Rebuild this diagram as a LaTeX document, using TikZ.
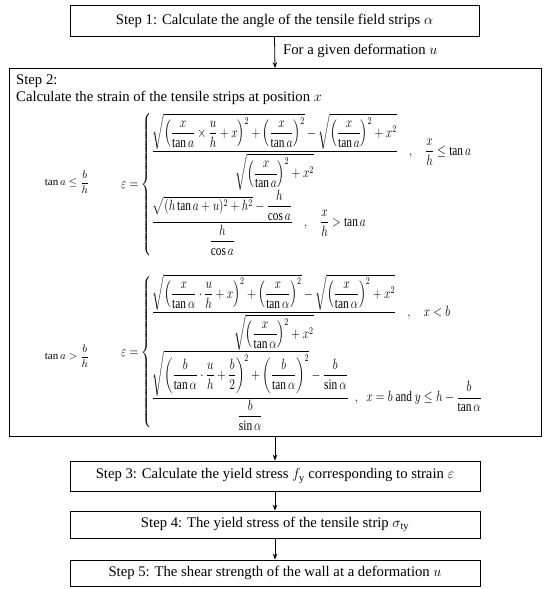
\documentclass[tikz,border=0pt]{standalone}
\usepackage{amsmath}
\usepackage{graphicx}
\usepackage{fontspec}
\setmainfont{Liberation Serif}
\usetikzlibrary{arrows.meta}
\begin{document}
\begin{tikzpicture}[x=1pt,y=-1pt,
  stepbox/.style={draw, line width=0.8pt, inner sep=0pt, font=\fontsize{14.7}{17}\selectfont},
  flow/.style={-{Stealth[length=6pt,width=4.5pt]}, line width=0.8pt},
  txt/.style={inner sep=0pt, font=\fontsize{14.7}{17}\selectfont},
  cond/.style={inner sep=0pt, font=\fontsize{11}{13}\selectfont},
  eq/.style={inner sep=0pt, font=\fontsize{14.2}{17}\selectfont}]
\useasboundingbox (0,0) rectangle (550,589);
\node[stepbox, minimum width=409pt, minimum height=31pt] (s1) at (274.5,21) {Step 1: Calculate the angle of the tensile field strips $\alpha$};
\node[stepbox, minimum width=532pt, minimum height=368pt] (s2) at (275,252.5) {};
\node[stepbox, minimum width=410pt, minimum height=30pt] (s3) at (275,476) {Step 3: Calculate the yield stress $f_{\mathrm{y}}$ corresponding to strain $\varepsilon$};
\node[stepbox, minimum width=410pt, minimum height=27pt] (s4) at (275,524.5) {Step 4: The yield stress of the tensile strip $\sigma_{\mathrm{ty}}$};
\node[stepbox, minimum width=410pt, minimum height=26pt] (s5) at (275,573) {Step 5: The shear strength of the wall at a deformation $u$};
\draw[flow] (s1.south) -- (s2.north);
\node[txt, anchor=west] (lab) at (283,51) {For a given deformation $u$};
\draw[flow] (s2.south) -- (s3.north);
\draw[flow] (s3.south) -- (s4.north);
\draw[flow] (s4.south) -- (s5.north);
\node[txt, anchor=west] (t2a) at (16,81) {Step 2:};
\node[txt, anchor=west] (t2b) at (16,98) {Calculate the strain of the tensile strips at position $x$};
% group 1
\node[cond] (c1) at (67,182) {$\tan a\le\dfrac{b}{h}$};
\node[eq, anchor=west] (e1) at (121,184.5) {\scalebox{0.8}[1.03]{$\displaystyle \varepsilon=\left\{\begin{array}{@{}l@{}}
\dfrac{\sqrt{\left(\dfrac{x}{\tan a}\times\dfrac{u}{h}+x\right)^{2}+\left(\dfrac{x}{\tan a}\right)^{2}}-\sqrt{\left(\dfrac{x}{\tan a}\right)^{2}+x^{2}}}{\sqrt{\left(\dfrac{x}{\tan a}\right)^{2}+x^{2}}}\quad,\quad\dfrac{x}{h}\le\tan a\\[6pt]
\dfrac{\sqrt{(h\tan a+u)^{2}+h^{2}}-\dfrac{h}{\cos a}}{\dfrac{h}{\cos a}}\quad,\quad\dfrac{x}{h}>\tan a
\end{array}\right.$}};
% group 2
\node[cond] (c2) at (67,356) {$\tan a>\dfrac{b}{h}$};
\node[eq, anchor=west] (e2) at (121,352.5) {\scalebox{0.8}[1.03]{$\displaystyle \varepsilon=\left\{\begin{array}{@{}l@{}}
\dfrac{\sqrt{\left(\dfrac{x}{\tan\alpha}\cdot\dfrac{u}{h}+x\right)^{2}+\left(\dfrac{x}{\tan\alpha}\right)^{2}}-\sqrt{\left(\dfrac{x}{\tan\alpha}\right)^{2}+x^{2}}}{\sqrt{\left(\dfrac{x}{\tan\alpha}\right)^{2}+x^{2}}}\quad,\quad x<b\\[6pt]
\dfrac{\sqrt{\left(\dfrac{b}{\tan\alpha}\cdot\dfrac{u}{h}+\dfrac{b}{2}\right)^{2}+\left(\dfrac{b}{\tan\alpha}\right)^{2}}-\dfrac{b}{\sin\alpha}}{\dfrac{b}{\sin\alpha}}\;\;,\;\;x=b\text{ and }y\le h-\dfrac{b}{\tan\alpha}
\end{array}\right.$}};
\end{tikzpicture}
\end{document}
